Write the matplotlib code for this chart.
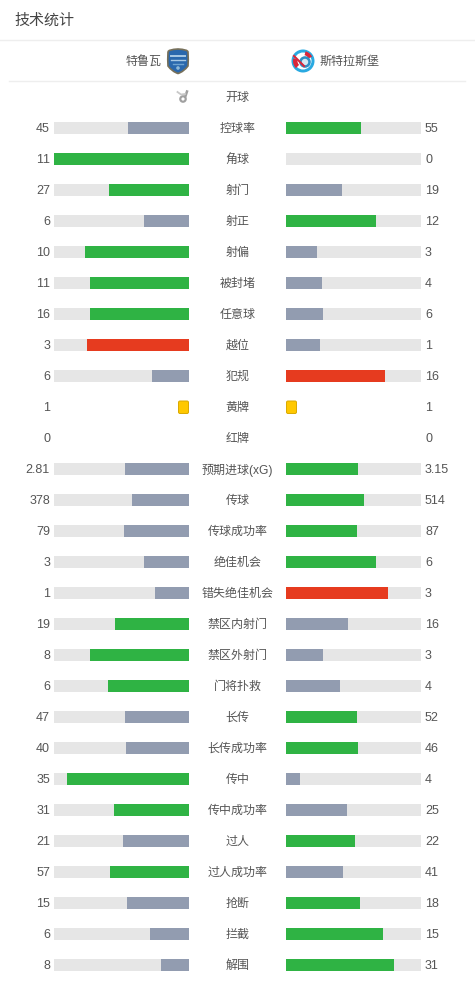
import matplotlib
matplotlib.use('Agg')
import matplotlib.pyplot as plt
from matplotlib.patches import Circle, FancyBboxPatch, Wedge
from matplotlib.path import Path
from matplotlib.patches import PathPatch

plt.rcParams['font.family'] = ['Liberation Sans', 'Noto Sans CJK SC']
plt.rcParams['text.kerning_factor'] = 6

title = '技术统计'
home_team = '特鲁瓦'
away_team = '斯特拉斯堡'

stats = ['控球率', '角球', '射门', '射正', '射偏', '被封堵', '任意球', '越位', '犯规', '黄牌', '红牌',
         '预期进球(xG)', '传球', '传球成功率', '绝佳机会', '错失绝佳机会', '禁区内射门', '禁区外射门',
         '门将扑救', '长传', '长传成功率', '传中', '传中成功率', '过人', '过人成功率', '抢断', '拦截', '解围']
home = [45, 11, 27, 6, 10, 11, 16, 3, 6, 1, 0, 2.81, 378, 79, 3, 1, 19, 8, 6, 47, 40, 35, 31, 21, 57, 15, 6, 8]
away = [55, 0, 19, 12, 3, 4, 6, 1, 16, 1, 0, 3.15, 514, 87, 6, 3, 16, 3, 4, 52, 46, 4, 25, 22, 41, 18, 15, 31]

# 这几项是数值大的一方标红
bad_stats = ['越位', '犯规', '错失绝佳机会']
card_stats = ['黄牌', '红牌']

GREEN = '#2fb344'
RED = '#e63b1f'
GREY = '#929cb0'
TRACK = '#e6e6e6'
YELLOW = '#ffc800'
TEXT = '#555555'

W, H = 475, 981
fig = plt.figure(figsize=(W / 100, H / 100), dpi=100, facecolor='white')

# 整张图一个像素坐标的底层，放文字和分隔线
base = fig.add_axes([0, 0, 1, 1])
base.set_xlim(0, W)
base.set_ylim(H, 0)
base.axis('off')


def row_y(i):
    return 128 + 31 * i


# 左右两个条形图，左边的 x 轴反向
top, bottom = 112, 980
ax_l = fig.add_axes([54 / W, 1 - bottom / H, 135 / W, (bottom - top) / H])
ax_r = fig.add_axes([286 / W, 1 - bottom / H, 135 / W, (bottom - top) / H])
ax_l.set_xlim(0.996, 0)
ax_r.set_xlim(0, 0.996)
for ax in (ax_l, ax_r):
    ax.set_ylim(bottom, top)
    ax.axis('off')

for i, name in enumerate(stats):
    y = row_y(i)
    a, b = home[i], away[i]
    base.text(237.5, y + 1, name, ha='center', va='center', fontsize=8.64, color=TEXT)
    base.text(50, y + 1, str(a), ha='right', va='center', fontsize=9, color=TEXT)
    base.text(425, y + 1, str(b), ha='left', va='center', fontsize=9, color=TEXT)
    if name in card_stats:
        if a > 0:
            base.add_patch(FancyBboxPatch((178.5, y - 6), 10, 12.5, boxstyle='round,pad=0,rounding_size=1.5',
                                          fc=YELLOW, ec='#d9a900', lw=0.7))
        if b > 0:
            base.add_patch(FancyBboxPatch((286.5, y - 6), 10, 12.5, boxstyle='round,pad=0,rounding_size=1.5',
                                          fc=YELLOW, ec='#d9a900', lw=0.7))
        continue
    share_a = a / (a + b)
    share_b = b / (a + b)
    lead = RED if name in bad_stats else GREEN
    ax_l.barh(y, 1, height=12, color=TRACK)
    ax_r.barh(y, 1, height=12, color=TRACK)
    ax_l.barh(y, share_a, height=12, color=lead if a > b else GREY)
    ax_r.barh(y, share_b, height=12, color=lead if b > a else GREY)

# 标题和球队行
base.text(14.5, 21, title, ha='left', va='center', fontsize=10.8, color='#444444')
base.plot([0, W], [40, 40], color='#eeeeee', lw=1)
base.plot([9, 465], [81, 81], color='#eeeeee', lw=1)
base.text(162, 62, home_team, ha='right', va='center', fontsize=8.64, color=TEXT)
base.text(319, 62, away_team, ha='left', va='center', fontsize=8.64, color=TEXT)

# 队徽：特鲁瓦，圆角盾牌
shield = Path([(168, 52), (168, 49.5), (178, 49), (188, 49.5), (188, 52), (188.5, 60), (188, 66), (184, 71.5),
               (178, 73.5), (172, 71.5), (168, 66), (167.5, 60), (168, 52)],
              [Path.MOVETO, Path.CURVE3, Path.CURVE3, Path.CURVE3, Path.CURVE3, Path.CURVE3, Path.CURVE3,
               Path.CURVE3, Path.CURVE3, Path.CURVE3, Path.CURVE3, Path.CURVE3, Path.CURVE3])
base.add_patch(PathPatch(shield, fc='#2a68ad', ec='#77705a', lw=1.2))
base.plot([171, 185], [56, 56], color='#a9c9e4', lw=1.4)
base.plot([171, 185], [60, 60], color='#a9c9e4', lw=1)
base.plot([173, 183], [64, 64], color='#6fa3d0', lw=1)
base.add_patch(Circle((178, 68), 1.8, fc='#8fb9d8', ec='none'))

# 队徽：斯特拉斯堡
base.add_patch(Circle((303, 61), 11.5, fc='#29a9e1', ec='none'))
base.add_patch(Circle((303, 61), 8.5, fc='white', ec='none'))
base.add_patch(Wedge((303, 61), 10, 135, 195, width=4.5, fc='#d9263a', ec='none'))
base.add_patch(Wedge((303, 61), 10, 285, 335, width=4, fc='#d9263a', ec='none'))
base.plot([294, 304], [56, 66], color='#d9263a', lw=1.5)
base.add_patch(Circle((305, 62), 5.8, fc='#2f8fc4', ec='none'))
base.add_patch(Circle((305, 62), 3.2, fc='#d5e8f3', ec='none'))

# 开球行
base.text(237.5, 98, '开球', ha='center', va='center', fontsize=8.64, color=TEXT)
base.add_patch(Wedge((183, 99), 3.8, 0, 360, width=2.2, fc='#a0a0a0', ec='none'))
base.plot([185.5, 187], [96, 91.5], color='#a0a0a0', lw=1.8)
base.plot([177.5, 181, 185], [92, 94.5, 94], color='#c8c8c8', lw=1.3)

fig.savefig('out.png', dpi=100)
